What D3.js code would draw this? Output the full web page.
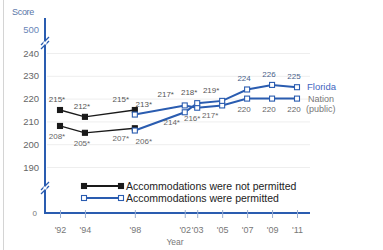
<!DOCTYPE html>
<html><head><meta charset="utf-8">
<script src="https://cdn.jsdelivr.net/npm/d3@7"></script>
<style>
html,body{margin:0;padding:0;background:#fff;}
svg{display:block;font-family:"Liberation Sans",Arial,sans-serif;}
</style></head>
<body><svg id="c" width="383" height="250"></svg>
<script>
// ---- data ----
const yearsNotPermitted = [1992, 1994, 1998];
const floridaNotPermitted = [208, 205, 207];
const nationNotPermitted = [215, 212, 215];
const yearsPermitted = [1998, 2002, 2003, 2005, 2007, 2009, 2011];
const floridaPermitted = [206, 214, 218, 219, 224, 226, 225];
const nationPermitted = [213, 217, 216, 217, 220, 220, 220];
const floridaNPSig = [true, true, true];
const nationNPSig = [true, true, true];
const floridaPSig = [true, true, true, true, false, false, false];
const nationPSig = [true, true, true, true, false, false, false];
const xTickYears = [1992, 1994, 1998, 2002, 2003, 2005, 2007, 2009, 2011];
const xTickLabels = ["'92", "'94", "'98", "'02", "'03", "'05", "'07", "'09", "'11"];
const yTicks = [190, 200, 210, 220, 230, 240];
const yBreakLabels = ["500", "0"];
const seriesNames = ["Florida", "Nation", "(public)"];
const legendLabels = ["Accommodations were not permitted", "Accommodations were permitted"];

// ---- layout ----
const svg = d3.select("#c");
const blue = "#2a5cb0";
const x = d3.scaleLinear().domain([1992, 2011]).range([60, 297]);
const y = d3.scaleLinear().domain([190, 240]).range([167, 53]);
const axisX = 45, axisTop = 18, axisBottom = 213, axisRight = 310;

// frame line on left
svg.append("line").attr("x1", 3.5).attr("x2", 3.5).attr("y1", 0).attr("y2", 250)
  .attr("stroke", "#d4d4d4").attr("stroke-width", 1);

// gridlines
svg.append("g").selectAll("line").data(yTicks).join("line")
  .attr("x1", axisX + 2).attr("x2", axisRight)
  .attr("y1", d => y(d) + 0.5).attr("y2", d => y(d) + 0.5)
  .attr("stroke", "#eeeeee").attr("stroke-width", 1);

// y tick labels
svg.append("g").selectAll("text").data(yTicks).join("text")
  .attr("x", 39).attr("y", d => y(d) + 3.5).attr("text-anchor", "end")
  .attr("font-size", 9.5).attr("fill", "#666").text(d => d);
svg.append("text").attr("x", 39).attr("y", 32.5).attr("text-anchor", "end")
  .attr("font-size", 9.5).attr("fill", "#6a86b8").text(yBreakLabels[0]);
svg.append("text").attr("x", 37).attr("y", 216).attr("text-anchor", "end")
  .attr("font-size", 8).attr("fill", "#777").text(yBreakLabels[1]);
svg.append("text").attr("x", 12).attr("y", 15).attr("font-size", 9)
  .attr("fill", "#5a76a8").attr("letter-spacing", -0.3).text("Score");

// axes
svg.append("line").attr("x1", axisX).attr("x2", axisX).attr("y1", axisTop).attr("y2", axisBottom + 1)
  .attr("stroke", blue).attr("stroke-width", 2);
svg.append("line").attr("x1", axisX - 1).attr("x2", axisRight).attr("y1", axisBottom).attr("y2", axisBottom)
  .attr("stroke", blue).attr("stroke-width", 2);
// break marks
[43, 188].forEach(by => {
  [-2, 2].forEach(o => {
    svg.append("line").attr("x1", axisX - 4).attr("y1", by + o + 4).attr("x2", axisX + 4).attr("y2", by + o - 4)
      .attr("stroke", blue).attr("stroke-width", 1.3);
  });
  svg.append("line").attr("x1", axisX).attr("x2", axisX).attr("y1", by - 1.5).attr("y2", by + 1.5)
    .attr("stroke", "#fff").attr("stroke-width", 3);
});

// x ticks
const xAxis = d3.axisBottom(x).tickValues(xTickYears).tickSize(5)
  .tickFormat((d, i) => xTickLabels[i]);
const gx = svg.append("g").attr("transform", `translate(0,${axisBottom})`).call(xAxis);
gx.select(".domain").remove();
gx.selectAll(".tick line").attr("stroke", "#9aaed0").attr("stroke-width", 1).attr("y1", -3);
gx.selectAll(".tick text").attr("font-size", 9).attr("fill", "#777").attr("dy", "1.3em")
  .attr("font-family", "Liberation Sans, Arial, sans-serif");
svg.append("text").attr("x", 175).attr("y", 245).attr("text-anchor", "middle")
  .attr("font-size", 8.5).attr("fill", "#777").text("Year");

// lines
const line = d3.line().x(d => x(d[0])).y(d => y(d[1]));
function series(years, vals, color, filled, width) {
  const pts = years.map((yr, i) => [yr, vals[i]]);
  svg.append("path").datum(pts).attr("d", line).attr("fill", "none")
    .attr("stroke", color).attr("stroke-width", width);
  svg.append("g").selectAll("rect").data(pts).join("rect")
    .attr("x", d => x(d[0]) - 2.5).attr("y", d => y(d[1]) - 2.5)
    .attr("width", 5).attr("height", 5)
    .attr("fill", filled ? color : "#fff").attr("stroke", color).attr("stroke-width", 1.1);
}
series(yearsNotPermitted, nationNotPermitted, "#1a1a1a", true, 1.3);
series(yearsNotPermitted, floridaNotPermitted, "#1a1a1a", true, 1.3);
series(yearsPermitted, nationPermitted, blue, false, 2);
series(yearsPermitted, floridaPermitted, blue, false, 2);

// value labels (layout nudges for crowded years)
function labelDx(yr, permitted, upper) {
  if (yr === 1998) return permitted ? 9 : -14;
  if (yr === 2002) return upper ? -19 : -13;
  if (yr === 2003) return upper ? -8 : -5;
  if (yr === 2005) return upper ? -11 : -12;
  return -3;
}
function labels(years, a, b, sigA, sigB, permitted) {
  years.forEach((yr, i) => {
    const hiA = a[i] >= b[i];
    const hi = hiA ? a[i] : b[i], lo = hiA ? b[i] : a[i];
    const hiSig = hiA ? sigA[i] : sigB[i], loSig = hiA ? sigB[i] : sigA[i];
    const late = yr >= 2007;
    svg.append("text").attr("x", x(yr) + labelDx(yr, permitted, true)).attr("y", y(hi) - 8)
      .attr("text-anchor", "middle").attr("font-size", 8)
      .attr("fill", late ? "#4a5f8a" : "#555").text(hi + (hiSig ? "*" : ""));
    svg.append("text").attr("x", x(yr) + labelDx(yr, permitted, false)).attr("y", y(lo) + 13)
      .attr("text-anchor", "middle").attr("font-size", 8)
      .attr("fill", "#666").text(lo + (loSig ? "*" : ""));
  });
}
labels(yearsNotPermitted, nationNotPermitted, floridaNotPermitted, nationNPSig, floridaNPSig, false);
labels(yearsPermitted, floridaPermitted, nationPermitted, floridaPSig, nationPSig, true);

// series names
const lastF = floridaPermitted[floridaPermitted.length - 1];
const lastN = nationPermitted[nationPermitted.length - 1];
svg.append("text").attr("x", 307).attr("y", y(lastF) + 3).attr("font-size", 9.5)
  .attr("fill", "#3f66c0").text(seriesNames[0]);
svg.append("text").attr("x", 308).attr("y", y(lastN) + 3.5).attr("font-size", 9)
  .attr("fill", "#777").text(seriesNames[1]);
svg.append("text").attr("x", 306).attr("y", y(lastN) + 13.5).attr("font-size", 9)
  .attr("fill", "#777").text(seriesNames[2]);

// legend
const lg = svg.append("g");
[[186, "#1a1a1a", true, 1.8], [198, blue, false, 1.8]].forEach(([ly, c, f, w], i) => {
  lg.append("line").attr("x1", 84).attr("x2", 121).attr("y1", ly).attr("y2", ly)
    .attr("stroke", c).attr("stroke-width", w);
  [84, 121].forEach(lx => lg.append("rect").attr("x", lx - 2.5).attr("y", ly - 2.5)
    .attr("width", 5).attr("height", 5).attr("fill", f ? c : "#fff").attr("stroke", c).attr("stroke-width", 1.1));
  lg.append("text").attr("x", 126).attr("y", ly + 3.5).attr("font-size", 10.5)
    .attr("fill", "#222").text(legendLabels[i]);
});
</script></body></html>
